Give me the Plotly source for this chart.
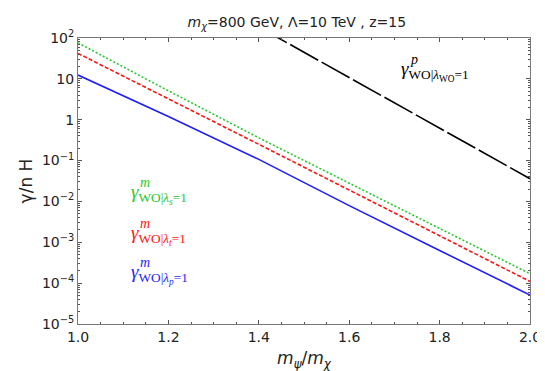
import plotly.graph_objects as go

# mass ratio m_psi / m_chi
ratio = [1.0, 1.2, 1.4, 1.6, 1.8, 2.0]
gamma_s = [76, 5.1, 0.36, 0.028, 2.2e-3, 1.7e-4]      # green, lambda_s = 1
gamma_t = [42, 3.3, 0.25, 0.019, 1.45e-3, 1.1e-4]     # red, lambda_t = 1
gamma_p = [12.4, 1.2, 0.107, 7.9e-3, 6.3e-4, 5.1e-5]  # blue, lambda_p = 1

ratio_wo = [1.4, 1.6, 1.8, 2.0]
gamma_wo = [186, 10.7, 0.63, 0.036]                   # black, lambda_WO = 1

y_tickvals = [1e2, 1e1, 1, 1e-1, 1e-2, 1e-3, 1e-4, 1e-5]
y_ticktext = ["10<sup>2</sup>", "10", "1", "10<sup>\u22121</sup>", "10<sup>\u22122</sup>",
              "10<sup>\u22123</sup>", "10<sup>\u22124</sup>", "10<sup>\u22125</sup>"]
y_minor = [k * 10.0 ** e for e in range(-5, 2) for k in range(2, 10)]

fig = go.Figure()
fig.add_trace(go.Scatter(x=ratio, y=gamma_s, mode='lines',
                         line=dict(color='rgb(40,200,40)', width=1.6, dash='2px,2px')))
fig.add_trace(go.Scatter(x=ratio, y=gamma_t, mode='lines',
                         line=dict(color='rgb(255,20,20)', width=1.6, dash='4px,2px')))
fig.add_trace(go.Scatter(x=ratio, y=gamma_p, mode='lines',
                         line=dict(color='rgb(30,30,255)', width=1.6)))
fig.add_trace(go.Scatter(x=ratio_wo, y=gamma_wo, mode='lines',
                         line=dict(color='black', width=1.6, dash='32px,4px')))

serif = dict(family='Liberation Serif', size=19)


def label(x, y, sub, color):
    fig.add_annotation(x=x, y=y, xref='paper', yref='paper', xanchor='left', yanchor='middle',
                       showarrow=False, font=dict(serif, color=color),
                       text="<i>\u03b3</i><sub>WO|" + sub + "</sub>")


def sup(x, y, s, color):
    fig.add_annotation(x=x, y=y, xref='paper', yref='paper', xanchor='left', yanchor='middle',
                       showarrow=False, font=dict(family='Liberation Serif', size=14, color=color),
                       text="<i>" + s + "</i>")


label(0.112, 0.455, "<i>\u03bb</i><sub><i>s</i></sub>=1", 'rgb(40,200,40)')
sup(0.132, 0.495, "m", 'rgb(40,200,40)')
label(0.112, 0.31, "<i>\u03bb</i><sub><i>t</i></sub>=1", 'rgb(255,20,20)')
sup(0.132, 0.35, "m", 'rgb(255,20,20)')
label(0.112, 0.175, "<i>\u03bb</i><sub><i>p</i></sub>=1", 'rgb(30,30,255)')
sup(0.132, 0.215, "m", 'rgb(30,30,255)')
label(0.71, 0.885, "<i>\u03bb</i><sub>WO</sub>=1", 'black')
sup(0.73, 0.925, "p", 'black')

fig.update_layout(
    width=545, height=371,
    margin=dict(l=70, r=12, t=30, b=55),
    plot_bgcolor='white', paper_bgcolor='white',
    showlegend=False,
    font=dict(family='DejaVu Sans', size=14, color='#222'),
    title=dict(text="<i>m</i><sub><i>\u03c7</i></sub>=800 GeV, \u039b=10 TeV , z=15",
               x=0.53, xanchor='center', y=0.975, yanchor='top', font=dict(size=14)),
)
fig.update_xaxes(range=[1.0, 2.0], tickvals=[1.0, 1.2, 1.4, 1.6, 1.8, 2.0],
                 ticktext=['1.0', '1.2', '1.4', '1.6', '1.8', '2.0'],
                 ticks='inside', ticklen=4, tickcolor='#555', mirror='allticks',
                 showline=True, linecolor='#777', linewidth=1, showgrid=False, zeroline=False,
                 minor=dict(ticks='inside', ticklen=2, dtick=0.05, tickcolor='#555'),
                 title=dict(text="<i>m</i><sub><i>\u03c8</i></sub>/<i>m</i><sub><i>\u03c7</i></sub>",
                            standoff=8))
fig.update_yaxes(type='log', range=[-5, 2], tickvals=y_tickvals, ticktext=y_ticktext,
                 ticks='inside', ticklen=4, tickcolor='#555', mirror='allticks',
                 showline=True, linecolor='#777', linewidth=1, showgrid=False, zeroline=False,
                 minor=dict(ticks='inside', ticklen=2, tickvals=y_minor, tickcolor='#555'),
                 title=dict(text="\u03b3/n H", standoff=4))

fig.write_html("out.html")
